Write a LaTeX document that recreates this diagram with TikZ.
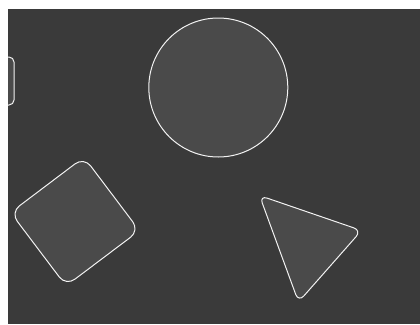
\documentclass[tikz,border=0pt]{standalone}
\definecolor{bgdark}{HTML}{3A3A3A}
\definecolor{shapefill}{HTML}{4A4A4A}
\definecolor{edgewhite}{HTML}{F2F2F2}
\tikzset{
  shapeline/.style={draw=edgewhite, line width=1pt, fill=shapefill, line join=round}
}
\begin{document}
\begin{tikzpicture}[x=1pt,y=-1pt]
  \useasboundingbox (0,0) rectangle (420,324);
  \fill[white] (0,0) rectangle (420,324);
  \fill[bgdark] (8,9) rectangle (420,324);
  \begin{scope}
    \clip (8,9) rectangle (420,324);
    % partial shape at left edge
    \draw[shapeline, rounded corners=5pt] (-20,57) rectangle (14,105);
    % circle
    \draw[shapeline] (218.3,87.5) circle (69.5);
    % rotated rounded square
    \draw[shapeline, rounded corners=11pt] (84.0,157.1) -- (139.4,230.6) -- (66.0,285.9) -- (10.6,212.5) -- cycle;
    % rounded triangle
    \draw[shapeline, rounded corners=8pt] (259.5,195.5) -- (361.5,230.5) -- (298.5,302) -- cycle;
  \end{scope}
\end{tikzpicture}
\end{document}
